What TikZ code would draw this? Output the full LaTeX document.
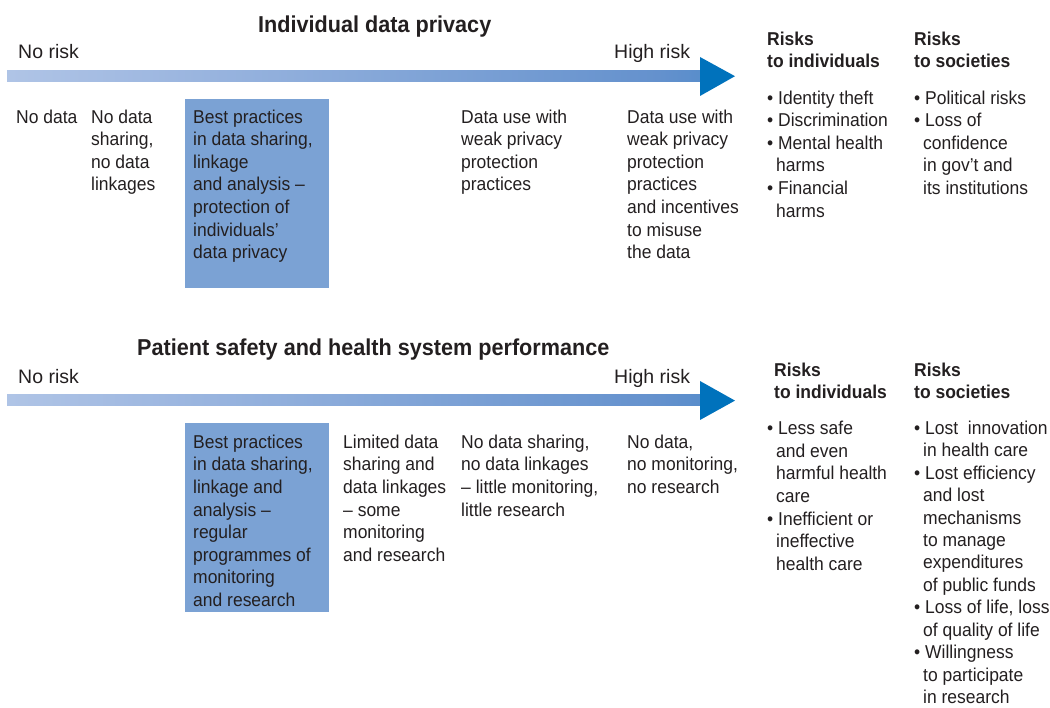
\documentclass[tikz,border=0pt]{standalone}
\usepackage{fontspec}
\setmainfont{Liberation Sans}[FakeStretch=0.94]
\newfontfamily\labelfont{Liberation Sans}
\definecolor{ink}{RGB}{35,31,32}
\definecolor{boxblue}{RGB}{123,162,212}
\definecolor{arrowblue}{RGB}{0,114,188}
\definecolor{barA}{RGB}{214,224,242}
\definecolor{barB}{RGB}{160,185,225}
\definecolor{barC}{RGB}{100,145,205}
\pgfdeclarehorizontalshading{riskbar}{100bp}{color(0bp)=(barA); color(35bp)=(barB); color(72bp)=(barC); color(100bp)=(arrowblue)}
\newcommand\lineup{\rule{0pt}{15pt}}
\newcommand\ind{\hspace*{9pt}}
\tikzset{
  body/.style={anchor=north west, inner sep=0pt, align=left, text=ink, yshift=15pt,
    font=\fontsize{18.6}{22.6}\selectfont},
  headtxt/.style={body, font=\bfseries\fontsize{18.6}{22.6}\selectfont},
  titletxt/.style={anchor=base west, inner sep=0pt, text=ink, font=\bfseries\fontsize{23}{28}\selectfont},
  risklabel/.style={anchor=base west, inner sep=0pt, text=ink, font=\labelfont\fontsize{19.5}{24}\selectfont},
  bestbox/.style={fill=boxblue, draw=none, anchor=north west, inner sep=0pt,
    minimum width=144pt, minimum height=189pt},
  barshade/.style={shading=riskbar, draw=none},
  tipfill/.style={fill=arrowblue, draw=none}
}
\begin{document}
\begin{tikzpicture}[x=1pt,y=-1pt]
\useasboundingbox (0,0) rectangle (1050,708);

% ---------- Individual data privacy ----------
\node[titletxt] (title1) at (258,33) {Individual data privacy};
\node[risklabel] (norisk1) at (18,59) {No risk};
\node[risklabel] (highrisk1) at (614,58.5) {High risk};
\coordinate (bar1a) at (7,70.7);
\coordinate (bar1b) at (700.5,81.7);
\shade[barshade] (bar1a) rectangle (bar1b);
\coordinate (tip1a) at (700,57);
\coordinate (tip1b) at (735,76.2);
\coordinate (tip1c) at (700,96);
\fill[tipfill] (tip1a) -- (tip1b) -- (tip1c) -- cycle;

\node[bestbox] (box1) at (185,99) {};
\node[body] (nodata1) at (16,123) {\lineup No data};
\node[body] (nosharing1) at (91,123) {\lineup No data\\sharing,\\no data\\linkages};
\node[body] (best1) at (193,123) {\lineup Best practices\\in data sharing,\\linkage\\and analysis –\\protection of\\individuals’\\data privacy};
\node[body] (weak1) at (461,123) {\lineup Data use with\\weak privacy\\protection\\practices};
\node[body] (weak2) at (627,123) {\lineup Data use with\\weak privacy\\protection\\practices\\and incentives\\to misuse\\the data};
\node[headtxt] (risksind1) at (767,45) {\lineup Risks\\to individuals};
\node[headtxt] (riskssoc1) at (914,45) {\lineup Risks\\to societies};
\node[body] (indlist1) at (767,104) {\lineup • Identity theft\\• Discrimination\\• Mental health\\\ind harms\\• Financial\\\ind harms};
\node[body] (soclist1) at (914,104) {\lineup • Political risks\\• Loss of\\\ind confidence\\\ind in gov’t and\\\ind its institutions};

% ---------- Patient safety ----------
\node[titletxt] (title2) at (137,355.5) {Patient safety and health system performance};
\node[risklabel] (norisk2) at (18,384) {No risk};
\node[risklabel] (highrisk2) at (614,383.5) {High risk};
\coordinate (bar2a) at (7,395);
\coordinate (bar2b) at (700.5,406);
\shade[barshade] (bar2a) rectangle (bar2b);
\coordinate (tip2a) at (700,381);
\coordinate (tip2b) at (735,400.6);
\coordinate (tip2c) at (700,420);
\fill[tipfill] (tip2a) -- (tip2b) -- (tip2c) -- cycle;

\node[bestbox] (box2) at (185,423) {};
\node[body] (best2) at (193,448) {\lineup Best practices\\in data sharing,\\linkage and\\analysis –\\regular\\programmes of\\monitoring\\and research};
\node[body] (limited2) at (343,448) {\lineup Limited data\\sharing and\\data linkages\\– some\\monitoring\\and research};
\node[body] (nosharing2) at (461,448) {\lineup No data sharing,\\no data linkages\\– little monitoring,\\little research};
\node[body] (nodata2) at (627,448) {\lineup No data,\\no monitoring,\\no research};
\node[headtxt] (risksind2) at (774,376) {\lineup Risks\\to individuals};
\node[headtxt] (riskssoc2) at (914,376) {\lineup Risks\\to societies};
\node[body] (indlist2) at (767,434.5) {\lineup • Less safe\\\ind and even\\\ind harmful health\\\ind care\\• Inefficient or\\\ind ineffective\\\ind health care};
\node[body, font=\fontsize{18.6}{22.45}\selectfont] (soclist2) at (914,434) {\lineup • Lost\ \ innovation\\\ind in health care\\• Lost efficiency\\\ind and lost\\\ind mechanisms\\\ind to manage\\\ind expenditures\\\ind of public funds\\• Loss of life, loss\\\ind of quality of life\\• Willingness\\\ind to participate\\\ind in research};
\end{tikzpicture}
\end{document}
